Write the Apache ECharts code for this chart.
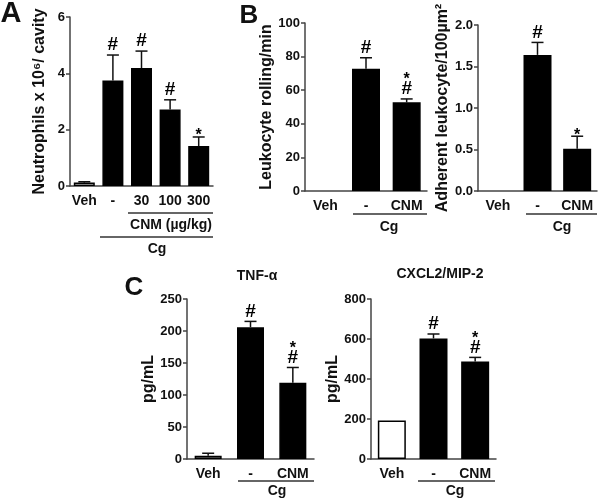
<!DOCTYPE html>
<html><head><meta charset="utf-8">
<script src="https://cdn.jsdelivr.net/npm/echarts/dist/echarts.min.js"></script>
<style>html,body{margin:0;padding:0;background:#fff}#c{width:600px;height:500px}</style>
</head><body><div id="c"></div><script>
// ---------- data ----------
const catsA = ['Veh', '-', '30', '100', '300'];
const neutroMean = [0.12, 3.75, 4.19, 2.72, 1.42];
const neutroErr  = [0.15, 4.65, 4.79, 3.06, 1.74];
const neutroSig  = ['', '#', '#', '#', '*'];
const neutroTicks = [0, 2, 4, 6];

const catsB = ['Veh', '-', 'CNM'];
const rollMean = [0, 72.7, 52.8];
const rollErr  = [0, 79.3, 54.8];
const rollSig  = ['', '#', '*#'];
const rollTicks = [0, 20, 40, 60, 80, 100];

const adhMean = [0, 1.64, 0.51];
const adhErr  = [0, 1.79, 0.66];
const adhSig  = ['', '#', '*'];
const adhTicks = [0, 0.5, 1.0, 1.5, 2.0];

const tnfMean = [5, 206, 119];
const tnfErr  = [9, 215, 143];
const tnfSig  = ['', '#', '*#'];
const tnfTicks = [0, 50, 100, 150, 200, 250];

const cxMean = [193, 603, 487];
const cxErr  = [193, 625, 508];
const cxSig  = ['', '#', '*#'];
const cxTicks = [0, 200, 400, 600, 800];

// ---------- helpers ----------
const FONT = "'Liberation Sans', Arial, sans-serif";
const AX = '#444';
const panels = [
  {cats: catsA, mean: neutroMean, err: neutroErr, sig: neutroSig, ticks: neutroTicks, name: 'Neutrophils x 10\u2076/ cavity', gap: 22, bw: 21, dec: 0,
   grid: {left: 70, top: 17, width: 143, height: 169}},
  {cats: catsB, mean: rollMean, err: rollErr, sig: rollSig, ticks: rollTicks, name: 'Leukocyte rolling/min', gap: 19, bw: 28, dec: 0,
   grid: {left: 305, top: 23, width: 122, height: 168}},
  {cats: catsB, mean: adhMean, err: adhErr, sig: adhSig, ticks: adhTicks, name: 'Adherent leukocyte/100\u00b5m\u00b2', gap: 18, bw: 28, dec: 1,
   grid: {left: 478, top: 25, width: 119, height: 166}},
  {cats: catsB, mean: tnfMean, err: tnfErr, sig: tnfSig, ticks: tnfTicks, name: 'pg/mL', gap: 29, bw: 27, dec: 0,
   grid: {left: 187, top: 299, width: 127, height: 160}},
  {cats: catsB, mean: cxMean, err: cxErr, sig: cxSig, ticks: cxTicks, name: 'pg/mL', gap: 28, bw: 28, dec: 0,
   grid: {left: 371, top: 299, width: 125, height: 160}}
];

const grids = [], xAxes = [], yAxes = [], series = [];
panels.forEach((p, gi) => {
  grids.push(Object.assign({containLabel: false}, p.grid));
  xAxes.push({
    type: 'category', gridIndex: gi, data: p.cats,
    axisLine: {lineStyle: {color: AX, width: 1.5}},
    axisTick: {alignWithLabel: true, length: 4, lineStyle: {color: AX, width: 1.5}},
    axisLabel: {interval: 0, margin: 8, fontSize: 14, fontWeight: 'bold', color: '#111', fontFamily: FONT}
  });
  const t = p.ticks;
  yAxes.push({
    type: 'value', gridIndex: gi, min: t[0], max: t[t.length - 1], interval: t[1] - t[0],
    axisLine: {show: true, lineStyle: {color: AX, width: 1.5}},
    axisTick: {show: true, length: 4, lineStyle: {color: AX, width: 1.5}},
    splitLine: {show: false},
    axisLabel: {margin: 5, fontSize: 13, fontWeight: 'bold', color: '#111', fontFamily: FONT,
      formatter: v => v.toFixed(p.dec)},
    name: p.name, nameLocation: 'middle', nameGap: p.gap,
    nameTextStyle: {fontSize: 16, fontWeight: 'bold', color: '#111', fontFamily: FONT}
  });
  series.push({
    type: 'bar', xAxisIndex: gi, yAxisIndex: gi, barWidth: p.bw,
    data: p.mean.map((v, i) => ({value: v, itemStyle: {color: i === 0 ? '#fff' : '#000', borderColor: '#000', borderWidth: v > 0 ? 1.5 : 0}})),
    silent: true, animation: false
  });
  series.push({
    type: 'custom', xAxisIndex: gi, yAxisIndex: gi,
    data: p.mean.map((v, i) => [i, v, p.err[i]]),
    encode: {x: 0, y: [1, 2]}, animation: false, silent: true,
    renderItem: function (params, api) {
      const i = api.value(0), m = api.value(1), e = api.value(2);
      const p0 = api.coord([i, m]), p1 = api.coord([i, e]);
      const ch = [];
      if (e > m) {
        ch.push({type: 'line', shape: {x1: p0[0], y1: p0[1], x2: p1[0], y2: p1[1]}, style: {stroke: '#111', lineWidth: 1.5}});
        ch.push({type: 'line', shape: {x1: p1[0] - 6, y1: p1[1], x2: p1[0] + 6, y2: p1[1]}, style: {stroke: '#111', lineWidth: 1.5}});
      }
      const s = p.sig[params.dataIndex];
      const hasH = s.indexOf('#') >= 0, hasS = s.indexOf('*') >= 0;
      if (hasH) ch.push({type: 'text', style: {text: '#', x: p1[0], y: p1[1] - 10, textAlign: 'center', textVerticalAlign: 'middle',
        fontSize: 19, fontWeight: 'bold', fontFamily: FONT, fill: '#000'}});
      if (hasS) ch.push({type: 'text', style: {text: '*', x: p1[0], y: p1[1] - (hasH ? 23 : 5) + 4, textAlign: 'center', textVerticalAlign: 'middle',
        fontSize: 16, fontWeight: 'bold', fontFamily: FONT, fill: '#000'}});
      return {type: 'group', children: ch};
    }
  });
});

function txt(text, x, y, size) {
  return {type: 'text', silent: true, style: {text: text, x: x, y: y, textAlign: 'center', textVerticalAlign: 'middle',
    fontSize: size, fontWeight: 'bold', fontFamily: FONT, fill: '#111'}};
}
function hl(x1, x2, y) {
  return {type: 'line', silent: true, shape: {x1: x1, y1: y, x2: x2, y2: y}, style: {stroke: '#333', lineWidth: 1.5}};
}
const graphic = [
  txt('A', 11, 14, 29), txt('B', 249, 16, 26), txt('C', 134, 288, 26),
  txt('TNF-\u03b1', 257, 276, 14), txt('CXCL2/MIP-2', 440, 274, 14),
  hl(128, 213, 213), txt('CNM (\u00b5g/kg)', 171, 225, 14),
  hl(100, 213, 237), txt('Cg', 157, 249, 14),
  hl(353, 427, 214), txt('Cg', 389, 227, 14),
  hl(526, 597, 214), txt('Cg', 562, 227, 14),
  hl(238, 314, 481), txt('Cg', 277, 491, 14),
  hl(418, 495, 481), txt('Cg', 455, 491, 14)
];

const chart = echarts.init(document.getElementById('c'), null, {renderer: 'canvas'});
chart.setOption({animation: false, backgroundColor: '#fff', grid: grids, xAxis: xAxes, yAxis: yAxes, series: series, graphic: graphic});
</script></body></html>
